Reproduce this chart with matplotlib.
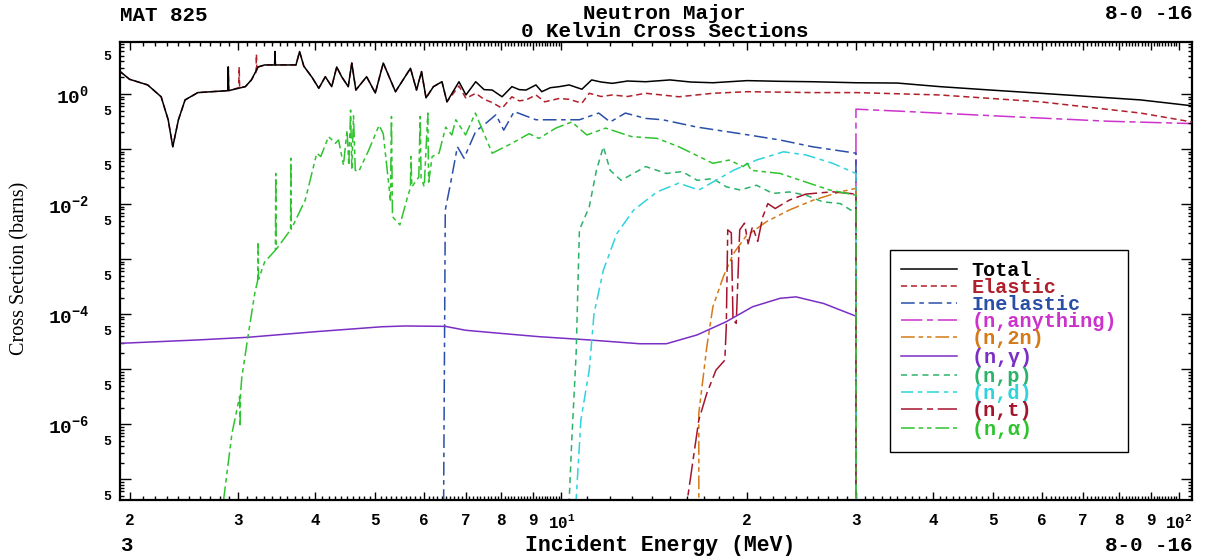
import numpy as np
import matplotlib
matplotlib.use('Agg')
import matplotlib.pyplot as plt
from matplotlib.ticker import FixedLocator, FixedFormatter, NullFormatter

plt.rcParams['font.family'] = ['Liberation Mono', 'DejaVu Sans Mono']
plt.rcParams['font.weight'] = 'bold'
plt.rcParams['mathtext.fontset'] = 'custom'
plt.rcParams['mathtext.rm'] = 'Liberation Mono:bold'
plt.rcParams['mathtext.it'] = 'Liberation Mono:bold'
plt.rcParams['mathtext.bf'] = 'Liberation Mono:bold'

# --- data (energy in MeV, cross section in barns) ---
# resonance region, total and elastic lie on top of each other here
res_E = [1.92, 2.00, 2.14, 2.25, 2.31, 2.35, 2.40, 2.46, 2.58, 2.885, 2.89, 2.895,
         3.08, 3.15, 3.23, 3.31, 3.435, 3.44, 3.445, 3.72, 3.77, 3.83, 3.95, 4.05,
         4.15, 4.25, 4.33, 4.41, 4.52, 4.58, 4.65, 4.84, 5.00, 5.15, 5.39, 5.70,
         5.83, 5.94, 6.04, 6.21, 6.41, 6.53]
res_xs = [2.7, 1.85, 1.46, 0.89, 0.34, 0.11, 0.34, 0.78, 1.06, 1.15, 3.1, 1.15,
          1.36, 1.8, 3.1, 3.37, 3.37, 5.9, 3.37, 3.37, 5.9, 3.2, 2.0, 1.27,
          2.06, 1.36, 3.1, 2.06, 1.36, 3.65, 1.18, 2.06, 1.04, 3.65, 1.1, 2.93,
          1.18, 2.55, 0.85, 1.36, 1.67, 0.72]

total_hi_E = [6.83, 7.01, 7.27, 7.5, 7.73, 8.02, 8.32, 8.55, 8.77, 9.1, 9.3, 9.6,
              9.93, 10.3, 10.8, 11.2, 11.6, 12.1, 12.8, 13.7, 15.0, 16.2, 17.6,
              20.0, 22.5, 25.5, 30.0, 35.0, 41.0, 49.5, 59.7, 86.7, 105.0]
total_hi_xs = [1.67, 0.96, 1.67, 1.2, 1.18, 0.89, 1.36, 1.2, 1.18, 1.46, 1.1, 1.3,
               1.36, 1.46, 1.22, 1.8, 1.65, 1.56, 1.72, 1.67, 1.8, 1.65, 1.6,
               1.75, 1.7, 1.67, 1.6, 1.58, 1.36, 1.18, 1.03, 0.78, 0.61]

elastic_hi_E = [6.83, 7.01, 7.27, 7.5, 7.73, 8.02, 8.32, 8.55, 8.77, 9.1, 9.4, 9.93,
                10.3, 10.8, 11.1, 11.6, 12.1, 12.8, 13.7, 15.5, 17.6, 20.0, 25.5,
                30.0, 41.0, 59.7, 86.7, 105.0]
elastic_hi_xs = [1.4, 0.83, 1.03, 0.8, 0.7, 0.55, 0.89, 0.75, 0.78, 0.96, 0.72, 0.83,
                 0.8, 0.68, 1.03, 0.9, 0.96, 0.9, 1.03, 0.89, 1.03, 1.1, 1.06,
                 1.06, 0.96, 0.72, 0.45, 0.31]
# narrow elastic spikes that poke out from under the total
elastic_spike_E = [3.005, 3.01, 3.015, 3.205, 3.21, 3.215]
elastic_spike_xs = [1.3, 3.1, 1.3, 2.5, 5.3, 2.6]

inel_E = [6.44, 6.45, 6.49, 6.62, 6.79, 6.96, 7.27, 7.54, 7.84, 8.07, 8.39, 9.1,
          10.0, 10.7, 11.5, 12.0, 12.7, 13.7, 14.6, 16.6, 19.5, 22.6, 25.5, 30.0, 30.0]
inel_xs = [1e-9, 4.2e-8, 7.8e-3, 0.024, 0.11, 0.068, 0.21, 0.29, 0.42, 0.22, 0.48, 0.34,
           0.34, 0.34, 0.45, 0.31, 0.45, 0.36, 0.34, 0.25, 0.19, 0.146, 0.11, 0.084, 1e-12]

anything_E = [30.0, 30.0, 36.3, 52.8, 76.7, 105.0]
anything_xs = [1e-12, 0.53, 0.48, 0.39, 0.32, 0.29]

n2n_E = [16.7, 16.7, 16.9, 17.2, 17.6, 18.3, 19.0, 19.9, 21.5, 23.4, 25.6, 28.3, 30.0, 30.0]
n2n_xs = [1e-9, 1.6e-6, 4.8e-6, 2.5e-5, 1.36e-4, 4.8e-4, 1.26e-3, 2.6e-3, 4.8e-3,
          7.8e-3, 0.0118, 0.0167, 0.0193, 1e-12]

gamma_E = [1.916, 2.58, 3.11, 4.0, 5.12, 5.59, 6.49, 7.0, 7.93, 9.2, 11.1, 13.4,
           14.8, 16.6, 18.5, 20.4, 22.6, 24.0, 26.6, 30.0]
gamma_xs = [2.94e-5, 3.4e-5, 3.8e-5, 4.8e-5, 5.9e-5, 6.1e-5, 6.0e-5, 5.1e-5, 4.5e-5,
            3.9e-5, 3.4e-5, 2.9e-5, 2.9e-5, 4.2e-5, 7.3e-5, 1.36e-4, 1.94e-4,
            2.06e-4, 1.56e-4, 9.2e-5]

np_E = [10.25, 10.3, 10.4, 10.57, 10.7, 11.1, 11.4, 11.7, 12.0, 12.5, 13.7, 14.8,
        15.7, 16.6, 17.6, 18.5, 19.5, 20.7, 22.0, 23.4, 24.9, 26.5, 28.3, 30.0, 30.0]
np_xs = [1e-9, 4.2e-8, 5.1e-7, 1.9e-5, 3.4e-3, 8.9e-3, 0.041, 0.11, 0.041, 0.027,
         0.048, 0.036, 0.039, 0.027, 0.029, 0.0206, 0.018, 0.022, 0.0156, 0.0166,
         0.0145, 0.011, 0.0102, 6.8e-3, 1e-12]

nd_E = [10.5, 10.57, 10.76, 11.1, 11.3, 11.7, 12.3, 13.1, 14.3, 15.5, 16.7, 17.8,
        19.0, 20.7, 22.9, 24.9, 27.5, 30.0, 30.0]
nd_xs = [1e-9, 4.2e-8, 1.2e-6, 9.6e-6, 1.03e-4, 6.3e-4, 2.9e-3, 7.8e-3, 0.0167,
         0.024, 0.018, 0.027, 0.041, 0.063, 0.089, 0.078, 0.055, 0.036, 1e-12]

nt_E = [15.95, 16.0, 16.4, 16.7, 17.2, 17.8, 18.4, 18.5, 18.6, 18.85, 18.97, 19.2,
        19.45, 19.8, 20.07, 20.4, 20.8, 21.2, 21.6, 22.2, 23.4, 24.9, 27.5, 30.0, 30.0]
nt_xs = [1e-9, 4.2e-8, 2.9e-7, 1.2e-6, 3.6e-6, 9.6e-6, 1.46e-5, 5.9e-5, 3.4e-3, 3.0e-3,
         7.8e-5, 6.8e-5, 3.4e-3, 4.5e-3, 1.9e-3, 3.9e-3, 2.1e-3, 5.9e-3, 0.0102,
         8.3e-3, 0.0118, 0.0152, 0.0167, 0.0152, 1e-12]

na_E = [2.82, 2.84, 2.93, 3.015, 3.02, 3.025, 3.04, 3.11, 3.19, 3.225, 3.23, 3.235,
        3.31, 3.445, 3.45, 3.455, 3.645, 3.65, 3.655, 3.85, 4.02, 4.08, 4.2, 4.31,
        4.36, 4.44, 4.50, 4.53, 4.56, 4.58, 4.61, 4.64, 4.70, 4.88, 5.07, 5.15,
        5.29, 5.31, 5.33, 5.48, 5.62, 5.70, 5.71, 5.73, 5.88, 5.91, 5.93, 6.0,
        6.08, 6.1, 6.18, 6.34, 6.50, 6.65, 6.75, 7.0, 7.26, 7.73, 8.32, 8.87,
        9.2, 9.8, 10.4, 11.0, 11.8, 13.0, 14.3, 15.5, 17.6, 18.7, 19.7, 20.0,
        20.3, 22.6, 27.2, 30.0, 30.0]
na_xs = [1e-8, 4.2e-8, 6.8e-7, 3.2e-6, 9e-7, 3.6e-6, 7.2e-6, 3.9e-5, 2.4e-4, 4.1e-4,
         1.9e-3, 4.3e-4, 8.9e-4, 1.45e-3, 0.036, 1.5e-3, 3.4e-3, 0.068, 3.5e-3,
         0.0118, 0.084, 0.073, 0.168, 0.127, 0.146, 0.051, 0.22, 0.05, 0.51, 0.045,
         0.4, 0.041, 0.039, 0.096, 0.27, 0.19, 0.0118, 0.39, 5.9e-3, 4.2e-3, 0.0118,
         0.02, 0.073, 0.0206, 0.031, 0.39, 0.03, 0.0206, 0.45, 0.025, 0.073, 0.084,
         0.25, 0.18, 0.34, 0.18, 0.45, 0.084, 0.127, 0.19, 0.156, 0.24, 0.31, 0.18,
         0.24, 0.168, 0.156, 0.11, 0.055, 0.063, 0.048, 0.055, 0.041, 0.036, 0.018,
         0.0145, 1e-12]

total_E = res_E + total_hi_E
total_xs = res_xs + total_hi_xs
elastic_E = sorted(res_E + elastic_spike_E) + elastic_hi_E
elastic_xs = [dict(zip(res_E + elastic_spike_E, res_xs + elastic_spike_xs))[e]
              for e in sorted(res_E + elastic_spike_E)] + elastic_hi_xs

fig = plt.figure(figsize=(12.13, 5.57), dpi=100)
ax = fig.add_axes([0.0989, 0.1023, 0.8838, 0.8223])

lw = 1.1
ax.plot(total_E, total_xs, color='black', lw=lw, label='Total', zorder=4)
ax.plot(elastic_E, elastic_xs, color='#b0202a', lw=lw, ls=(0, (4, 2.5)),
        label='Elastic', zorder=3)
ax.plot(inel_E, inel_xs, color='#2a4fa8', lw=lw, ls=(0, (9, 3, 3, 3)),
        label='Inelastic', zorder=2)
ax.plot(anything_E, anything_xs, color='#cc33cc', lw=lw, ls=(0, (14, 3, 4, 3)),
        label='(n,anything)', zorder=1.5)
ax.plot(n2n_E, n2n_xs, color='#d47a18', lw=lw, ls=(0, (9, 2.5, 3, 2.5, 3, 2.5)),
        label='(n,2n)', zorder=2)
ax.plot(gamma_E, gamma_xs, color='#7a2ec4', lw=lw, label=r'(n,$\gamma$)', zorder=2)
ax.plot(np_E, np_xs, color='#2bb36a', lw=lw, ls=(0, (4, 3)), label='(n,p)', zorder=2)
ax.plot(nd_E, nd_xs, color='#2ed3dc', lw=lw, ls=(0, (8, 3, 3, 3)),
        label='(n,d)', zorder=2)
ax.plot(nt_E, nt_xs, color='#a5142e', lw=lw, ls=(0, (14, 3, 4, 3)),
        label='(n,t)', zorder=2)
ax.plot(na_E, na_xs, color='#2fc42f', lw=lw, ls=(0, (9, 2.5, 3, 2.5, 3, 2.5)),
        label=r'(n,$\alpha$)', zorder=2)

ax.set_xscale('log')
ax.set_yscale('log')
ax.set_xlim(1.93, 105)
ax.set_ylim(4.2e-8, 8.8)

# x ticks: digits between decades, 10^n at decades
x_major = [2, 3, 4, 5, 6, 7, 8, 9, 10, 20, 30, 40, 50, 60, 70, 80, 90, 100]
x_labels = ['2', '3', '4', '5', '6', '7', '8', '9', '$10^1$',
            '2', '3', '4', '5', '6', '7', '8', '9', '$10^2$']
x_minor = [v for v in np.round(np.arange(2.0, 10.0, 0.1), 1) if v not in x_major]
x_minor += [v for v in range(11, 100) if v not in x_major]
ax.xaxis.set_major_locator(FixedLocator(x_major))
ax.xaxis.set_major_formatter(FixedFormatter(x_labels))
ax.xaxis.set_minor_locator(FixedLocator(x_minor))
ax.xaxis.set_minor_formatter(NullFormatter())

# y ticks: every decade, labels on even decades, "5" at 5 x 10^n
y_major = [10.0 ** k for k in range(-7, 1)]
y_major_labels = ['' if k % 2 else '$10^{%d}$' % k for k in range(-7, 1)]
y_minor = [m * 10.0 ** k for k in range(-8, 1) for m in range(2, 10)]
y_minor_labels = ['5' if m == 5 else '' for k in range(-8, 1) for m in range(2, 10)]
ax.yaxis.set_major_locator(FixedLocator(y_major))
ax.yaxis.set_major_formatter(FixedFormatter(y_major_labels))
ax.yaxis.set_minor_locator(FixedLocator(y_minor))
ax.yaxis.set_minor_formatter(FixedFormatter(y_minor_labels))

ax.tick_params(which='both', direction='in', top=True, right=True, width=1.0)
ax.tick_params(axis='x', which='major', length=6, labelsize=11.5, pad=9)
ax.tick_params(axis='x', which='minor', length=3)
ax.tick_params(axis='y', which='major', length=8, labelsize=14, pad=22)
ax.tick_params(axis='y', which='minor', length=3, labelsize=9.5, pad=6)
for s in ax.spines.values():
    s.set_linewidth(1.6)

leg = ax.legend(loc='upper left', bbox_to_anchor=(0.718, 0.546), borderaxespad=0,
                fontsize=14.5, labelcolor='linecolor', handlelength=2.8,
                handletextpad=0.7, labelspacing=-0.1, borderpad=0.55,
                fancybox=False, framealpha=1, edgecolor='black')
leg.get_frame().set_linewidth(1.0)
leg.set_zorder(10)

fig.text(0.099, 0.973, 'MAT 825', fontsize=15, ha='left', va='center')
fig.text(0.548, 0.975, 'Neutron Major', fontsize=15, ha='center', va='center')
fig.text(0.548, 0.944, '0 Kelvin Cross Sections', fontsize=15, ha='center', va='center')
fig.text(0.983, 0.975, '8-0 -16', fontsize=15, ha='right', va='center')
fig.text(0.099, 0.0215, '3', fontsize=15, ha='left', va='center')
fig.text(0.544, 0.0215, 'Incident Energy (MeV)', fontsize=15.5, ha='center', va='center')
fig.text(0.983, 0.0215, '8-0 -16', fontsize=15, ha='right', va='center')
fig.text(0.016, 0.519, 'Cross Section (barns)', fontsize=14.5, rotation=90,
         ha='center', va='center', family='Liberation Serif', weight='normal')

fig.savefig('out.png', dpi=100)
